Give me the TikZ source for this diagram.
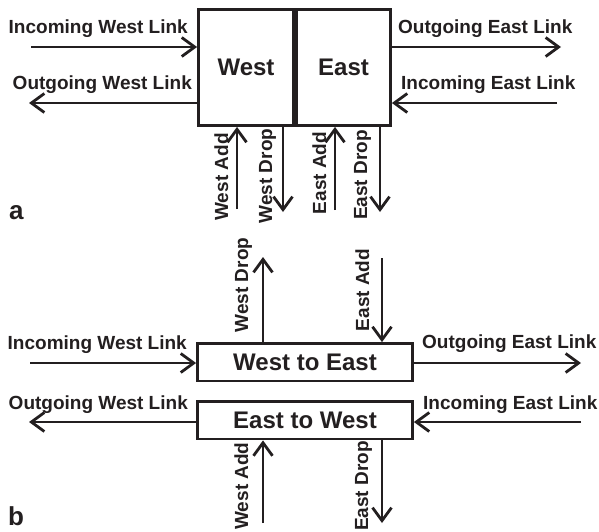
\documentclass[tikz,border=0pt]{standalone}
\usepackage{fontspec}
\setmainfont{Liberation Sans}
\usetikzlibrary{arrows.meta}

\definecolor{tinte}{RGB}{35,31,32}

\begin{document}
\begin{tikzpicture}[x=1pt, y=-1pt,
		pfeil/.style={-{Straight Barb[length=13pt, width=19pt, line width=2.8pt]}, line width=2.8pt, draw=tinte},
		kasten/.style={draw=tinte, line width=2.8pt, inner sep=0pt, text=tinte, font=\bfseries\fontsize{24}{28}\selectfont},
		schrift/.style={inner sep=0pt, text=tinte, font=\bfseries\fontsize{19}{22}\selectfont},
		hoch/.style={schrift, rotate=90, anchor=base},
		teil/.style={inner sep=0pt, anchor=base west, text=tinte, font=\bfseries\fontsize{26}{30}\selectfont}]

		\useasboundingbox (0,0) rectangle (599,531);

		%Teil a: zwei Kaesten nebeneinander
		\node [kasten, minimum width=95pt, minimum height=116pt] (West) at (246,67.5) {West};
		\node [kasten, minimum width=94pt, minimum height=116pt] (East) at (343.5,67.5) {East};

		\coordinate (iwlA) at (31,47);
		\coordinate (owlA) at (29,103);
		\coordinate (oelA) at (561,47);
		\coordinate (ielA) at (557,103);
		\coordinate (waA) at (237,209);
		\coordinate (wdA) at (283,212);
		\coordinate (eaA) at (335,210);
		\coordinate (edA) at (380,212);

		%Links
		\draw [pfeil] (iwlA) -- (iwlA -| West.west);
		\draw [pfeil] (owlA -| West.west) -- (owlA);
		\draw [pfeil] (oelA -| East.east) -- (oelA);
		\draw [pfeil] (ielA) -- (ielA -| East.east);
		%Add und Drop
		\draw [pfeil] (waA) -- (waA |- West.south);
		\draw [pfeil] (wdA |- West.south) -- (wdA);
		\draw [pfeil] (eaA) -- (eaA |- East.south);
		\draw [pfeil] (edA |- East.south) -- (edA);

		\node [schrift, anchor=base east] (iwlTa) at (188,33) {Incoming West Link};
		\node [schrift, anchor=base east] (owlTa) at (192,89) {Outgoing West Link};
		\node [schrift, anchor=base west] (oelTa) at (398,33) {Outgoing East Link};
		\node [schrift, anchor=base west] (ielTa) at (401,89) {Incoming East Link};
		\node [hoch] (waTa) at (228,177) {West Add};
		\node [hoch] (wdTa) at (272,176) {West Drop};
		\node [hoch] (eaTa) at (326,173) {East Add};
		\node [hoch] (edTa) at (367,175) {East Drop};
		\node [teil] (a) at (9,219) {a};

		%Teil b: zwei Kaesten uebereinander
		\node [kasten, minimum width=215pt, minimum height=37.5pt] (WtoE) at (305,362.25) {West to East};
		\node [kasten, minimum width=215pt, minimum height=37.5pt] (EtoW) at (305,420.25) {East to West};

		\coordinate (iwlB) at (30,363);
		\coordinate (owlB) at (29,422);
		\coordinate (oelB) at (581,363);
		\coordinate (ielB) at (581,422);
		\coordinate (wdB) at (263,257);
		\coordinate (eaB) at (382,258);
		\coordinate (waB) at (263,523);
		\coordinate (edB) at (382,523);

		%Links
		\draw [pfeil] (iwlB) -- (iwlB -| WtoE.west);
		\draw [pfeil] (owlB -| EtoW.west) -- (owlB);
		\draw [pfeil] (oelB -| WtoE.east) -- (oelB);
		\draw [pfeil] (ielB) -- (ielB -| EtoW.east);
		%Add und Drop
		\draw [pfeil] (wdB |- WtoE.north) -- (wdB);
		\draw [pfeil] (eaB) -- (eaB |- WtoE.north);
		\draw [pfeil] (waB) -- (waB |- EtoW.south);
		\draw [pfeil] (edB |- EtoW.south) -- (edB);

		\node [schrift, anchor=base east] (iwlTb) at (187,349) {Incoming West Link};
		\node [schrift, anchor=base east] (owlTb) at (188,409) {Outgoing West Link};
		\node [schrift, anchor=base west] (oelTb) at (422,348) {Outgoing East Link};
		\node [schrift, anchor=base west] (ielTb) at (423,409) {Incoming East Link};
		\node [hoch] (wdTb) at (248,285) {West Drop};
		\node [hoch] (eaTb) at (369,290) {East Add};
		\node [hoch] (waTb) at (248,486) {West Add};
		\node [hoch] (edTb) at (368,486) {East Drop};
		\node [teil] (b) at (8,525) {b};

	\end{tikzpicture}
\end{document}
